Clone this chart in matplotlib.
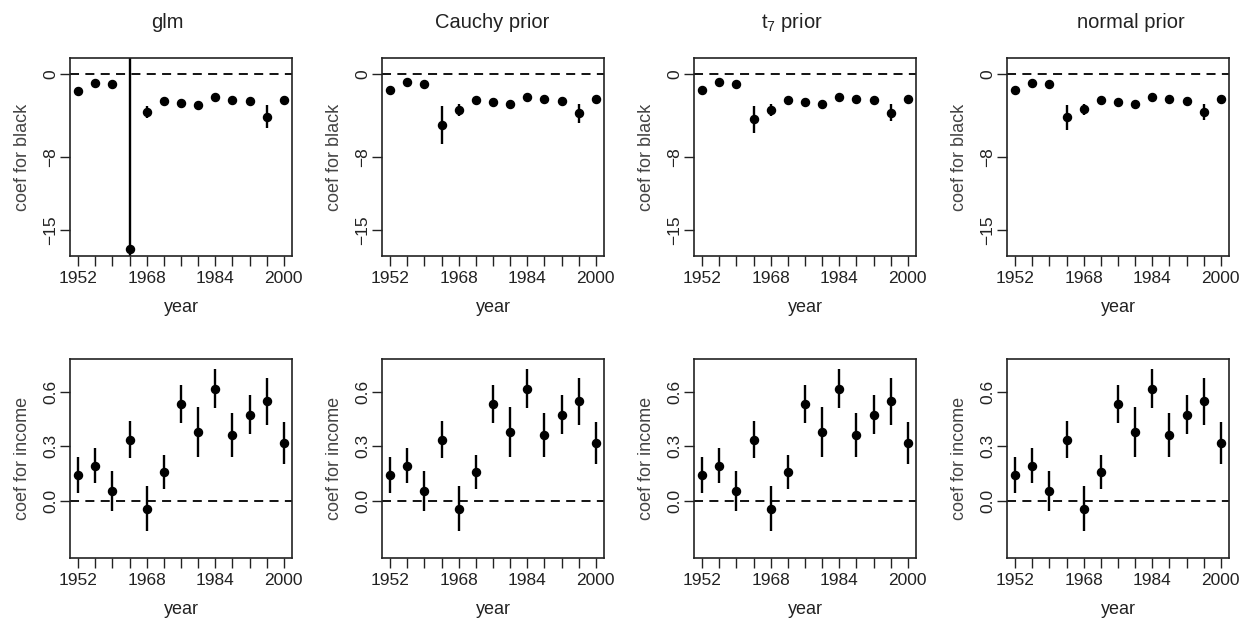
import matplotlib
matplotlib.use("Agg")
import matplotlib.pyplot as plt
import numpy as np

plt.rcParams["font.family"] = ["Liberation Sans", "DejaVu Sans"]

# ── data ──────────────────────────────────────────────────────────────────────
years = [1952, 1956, 1960, 1964, 1968, 1972, 1976, 1980, 1984, 1988, 1992, 1996, 2000]
tick_labels = ["1952", "", "", "", "1968", "", "", "", "1984", "", "", "", "2000"]
titles = ["glm", "Cauchy prior", r"t$_\mathregular{7}$ prior", "normal prior"]

# coefficient for black (estimate, +/- one s.e.)
black_glm    = [-1.61, -0.84, -1.00, -16.86, -3.63, -2.57, -2.83, -3.02, -2.22, -2.51, -2.64, -4.12, -2.51]
black_glm_se = [0.37, 0.30, 0.30, 25.0, 0.56, 0.30, 0.40, 0.35, 0.30, 0.30, 0.35, 1.10, 0.40]
black_cau    = [-1.54, -0.74, -0.96, -4.92, -3.47, -2.51, -2.73, -2.93, -2.19, -2.44, -2.57, -3.79, -2.44]
black_cau_se = [0.35, 0.30, 0.30, 1.80, 0.58, 0.30, 0.38, 0.35, 0.30, 0.30, 0.35, 0.90, 0.35]
black_t7     = [-1.58, -0.80, -0.96, -4.34, -3.47, -2.51, -2.73, -2.93, -2.19, -2.44, -2.51, -3.73, -2.44]
black_t7_se  = [0.30, 0.28, 0.30, 1.30, 0.55, 0.28, 0.38, 0.35, 0.28, 0.30, 0.33, 0.80, 0.33]
black_nor    = [-1.58, -0.84, -0.96, -4.18, -3.40, -2.51, -2.73, -2.93, -2.19, -2.44, -2.57, -3.67, -2.44]
black_nor_se = [0.28, 0.28, 0.30, 1.20, 0.52, 0.28, 0.36, 0.34, 0.28, 0.30, 0.33, 0.75, 0.32]

# coefficient for income (almost identical across the four fits)
income    = [0.143, 0.193, 0.051, 0.336, -0.046, 0.158, 0.532, 0.378, 0.617, 0.360, 0.473, 0.547, 0.317]
income_se = [0.100, 0.095, 0.110, 0.100, 0.124, 0.096, 0.107, 0.135, 0.107, 0.120, 0.107, 0.128, 0.117]

black_est = [black_glm, black_cau, black_t7, black_nor]
black_se = [black_glm_se, black_cau_se, black_t7_se, black_nor_se]

W, H = 1244, 621
fig = plt.figure(figsize=(W / 100, H / 100), dpi=100)
fig.patch.set_facecolor("white")

lefts = [70, 382, 694, 1007]
title_x = [167, 492, 792, 1131]
ax_w = 222


def style_axes(ax, ylabel, yticks, yticklabels, ylim):
    ax.set_xlim(1950.08, 2001.92)
    ax.set_ylim(*ylim)
    ax.set_xticks(years)
    ax.set_xticklabels(tick_labels, fontsize=12.5, color="#222222")
    ax.set_yticks(yticks)
    ax.set_yticklabels(yticklabels, fontsize=12.5, rotation=90, va="center",
                       color="#222222")
    ax.tick_params(direction="out", length=7, width=1, pad=4, color="#222222")
    ax.tick_params(axis="y", pad=1.5)
    for s in ax.spines.values():
        s.set_linewidth(1.2)
        s.set_color("#222222")
    ax.set_xlabel("year", fontsize=13, labelpad=9, color="#222222")
    ax.set_ylabel(ylabel, fontsize=13, labelpad=9, color="#444444")
    ax.axhline(0, color="black", lw=1.3, ls=(0, (5, 3.5)), zorder=1)


def draw(ax, est, se):
    est = np.asarray(est)
    se = np.asarray(se)
    ax.vlines(years, est - se, est + se, color="black", lw=1.7, zorder=2)
    ax.plot(years, est, "o", color="black", ms=5.8, zorder=3, clip_on=False)


for i in range(4):
    x0 = lefts[i] / W
    w = ax_w / W
    # top row: coef for black
    ax = fig.add_axes([x0, 1 - 256 / H, w, 198 / H])
    style_axes(ax, "coef for black", [0, -8, -15], ["0", "\u22128", "\u221215"],
               (-17.5, 1.54))
    draw(ax, black_est[i], black_se[i])
    fig.text(title_x[i] / W, 1 - 23 / H, titles[i], ha="center", va="center",
             fontsize=14.5, color="#222222")

    # bottom row: coef for income
    ax2 = fig.add_axes([x0, 1 - 558 / H, w, 199 / H])
    style_axes(ax2, "coef for income", [0.0, 0.3, 0.6], ["0.0", "0.3", "0.6"],
               (-0.316, 0.78))
    draw(ax2, income, income_se)

fig.savefig("out.png", dpi=100, facecolor="white")
